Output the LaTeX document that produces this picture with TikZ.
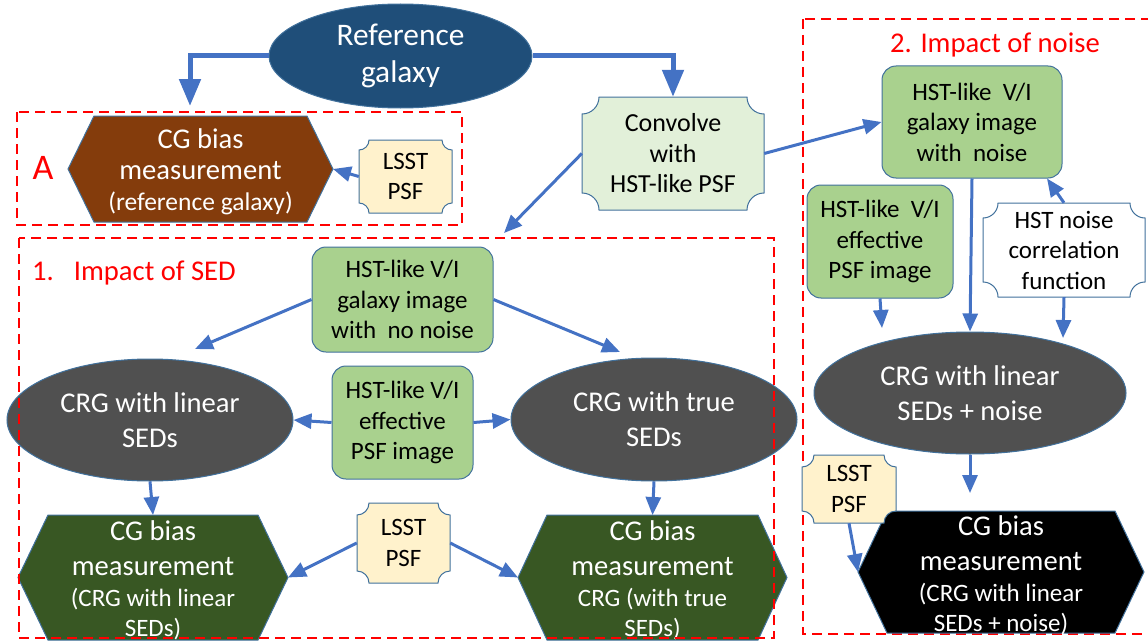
\documentclass[tikz,border=0pt]{standalone}
\usepackage{fontspec}
\setmainfont{Carlito}
\usetikzlibrary{shapes.geometric,arrows.meta}
\definecolor{arrowblue}{HTML}{4472C4}
\definecolor{bordblue}{HTML}{41719C}
\definecolor{navyfill}{HTML}{1F4E79}
\definecolor{brownfill}{HTML}{843C0C}
\definecolor{dkgreen}{HTML}{385723}
\definecolor{grayfill}{HTML}{505050}
\definecolor{greenfill}{HTML}{A9D18E}
\definecolor{lgreenfill}{HTML}{E2F0D9}
\definecolor{creamfill}{HTML}{FFF2CC}
\definecolor{redline}{HTML}{FF0000}

\newcommand\fbig{\fontsize{28.6}{35}\selectfont}
\newcommand\fhex{\fontsize{28.6}{31}\selectfont}
\newcommand\fmed{\fontsize{25}{30.5}\selectfont}
\newcommand\fsub{\fontsize{25}{30}\selectfont}

\tikzset{
  conn/.style={draw=arrowblue, line width=3pt, -{Triangle[length=18pt,width=15pt]}},
  bigconn/.style={draw=arrowblue, line width=5pt, -{Triangle[length=27pt,width=21pt]}},
  region/.style={draw=redline, line width=2.2pt, dash pattern=on 10pt off 6pt},
  outline/.style={draw=bordblue, line width=1pt},
  gbox/.style={outline, rectangle, rounded corners=14pt, fill=greenfill, align=center, font=\fmed, inner sep=0pt},
  ell/.style={outline, ellipse, fill=grayfill, text=white, align=center, font=\fbig, inner sep=0pt},
  ptext/.style={rectangle, align=center, font=\fmed, inner sep=0pt},
  htext/.style={rectangle, align=center, text=white, font=\fhex, inner sep=0pt},
  redlabel/.style={text=redline, font=\fbig, inner sep=0pt},
}

% plaque: name, cx, cy, w, h, radius, fill, text
\newcommand\plaque[8]{%
  \pgfmathsetmacro\pxa{#2-#4/2}\pgfmathsetmacro\pxb{#2+#4/2}%
  \pgfmathsetmacro\pya{#3-#5/2}\pgfmathsetmacro\pyb{#3+#5/2}%
  \pgfmathsetmacro\pr{#6}\pgfmathsetmacro\pk{0.5523*#6}%
  \draw[outline, fill=#7] (\pxa,{\pya+\pr})
    .. controls ({\pxa+\pk},{\pya+\pr}) and ({\pxa+\pr},{\pya+\pk}) .. ({\pxa+\pr},\pya)
    -- ({\pxb-\pr},\pya)
    .. controls ({\pxb-\pr},{\pya+\pk}) and ({\pxb-\pk},{\pya+\pr}) .. (\pxb,{\pya+\pr})
    -- (\pxb,{\pyb-\pr})
    .. controls ({\pxb-\pk},{\pyb-\pr}) and ({\pxb-\pr},{\pyb-\pk}) .. ({\pxb-\pr},\pyb)
    -- ({\pxa+\pr},\pyb)
    .. controls ({\pxa+\pr},{\pyb-\pk}) and ({\pxa+\pk},{\pyb-\pr}) .. (\pxa,{\pyb-\pr})
    -- cycle;
  \node[ptext, minimum width=#4pt, minimum height=#5pt] (#1) at (#2,#3) {#8};
}
% hexagon: name, cx, cy, w, h, inset, fill, text
\newcommand\hexnode[8]{%
  \pgfmathsetmacro\hxa{#2-#4/2}\pgfmathsetmacro\hxb{#2+#4/2}%
  \pgfmathsetmacro\hya{#3-#5/2}\pgfmathsetmacro\hyb{#3+#5/2}%
  \draw[outline, fill=#7] (\hxa,#3) -- ({\hxa+#6},\hya) -- ({\hxb-#6},\hya)
    -- (\hxb,#3) -- ({\hxb-#6},\hyb) -- ({\hxa+#6},\hyb) -- cycle;
  \coordinate (#1-l) at (\hxa,#3);
  \coordinate (#1-r) at (\hxb,#3);
  \coordinate (#1-t) at (#2,\hya);
  \node[htext] (#1) at (#2,{#3+3}) {#8};
}

\begin{document}
\begin{tikzpicture}[x=1pt,y=-1pt]
\useasboundingbox (0,0) rectangle (1148,642);

% region 2 (under its shapes)
\draw[region] (803,19) rectangle (1154,634);

% top
\node[outline, ellipse, fill=navyfill, text=white, align=center,
      font=\fontsize{31.4}{37}\selectfont, minimum width=263pt, minimum height=104pt, inner sep=0pt]
      (ref) at (400.5,56) {\rule{0pt}{4pt}Reference\\galaxy};

% box A
\hexnode{hexA}{200.5}{169}{265}{106}{26}{brownfill}{CG bias\\measurement\\{\fontsize{25.5}{30}\selectfont (reference galaxy)}}
\plaque{lsstA}{405.5}{176.5}{93}{73}{10}{creamfill}{LSST\\PSF}
\node[text=redline, font=\fontsize{36}{40}\selectfont, inner sep=0pt] (labA) at (43,168) {A};

% convolve
\plaque{conv}{673}{153.5}{182}{113}{17}{lgreenfill}{\fontsize{26}{31}\selectfont Convolve\\\fontsize{26}{31}\selectfont with\\\fontsize{26}{31}\selectfont HST-like PSF}

% region 2 content
\node[redlabel] (t2) at (995,45) {2. Impact of noise};
\node[gbox, minimum width=180pt, minimum height=112pt] (galN) at (972,122) {HST-like\ \ V/I\\galaxy image\\with\ \ noise};
\node[gbox, minimum width=146pt, minimum height=113pt] (effN) at (880,241.5) {HST-like\ \ V/I\\effective\\PSF image};
\plaque{corr}{1064}{250}{162}{94}{15}{white}{HST noise\\correlation\\function}
\node[ell, minimum width=312pt, minimum height=122pt] (crgN) at (970,393) {CRG with linear\\SEDs + noise};
\hexnode{hexN}{1001}{572}{286}{122}{29}{black}{CG bias\\[4pt]measurement\\{\fsub (CRG with linear}\\[-1pt]{\fsub SEDs + noise)}}
\plaque{lsstN}{849}{489}{94}{68}{12}{creamfill}{LSST\\PSF}

% region 1 content
\node[redlabel, anchor=west] (t1) at (32,273) {1.\hspace{20pt}Impact of SED};
\node[gbox, minimum width=181pt, minimum height=105pt] (galNo) at (402.5,299.5) {HST-like V/I\\galaxy image\\with\ \ no noise};
\node[ell, minimum width=286pt, minimum height=122pt] (crgL) at (150,420) {CRG with linear\\SEDs};
\node[ell, minimum width=286pt, minimum height=123pt] (crgT) at (654,419.5) {CRG with true\\SEDs};
\node[gbox, minimum width=141pt, minimum height=113pt] (effNo) at (402.5,422.5) {HST-like V/I\\effective\\PSF image};
\hexnode{hexL}{153}{577.5}{270}{125}{30}{dkgreen}{CG bias\\[4pt]measurement\\{\fsub (CRG with linear}\\[-1pt]{\fsub SEDs)}}
\hexnode{hexR}{652.5}{577.5}{269}{125}{29}{dkgreen}{CG bias\\[4pt]measurement\\{\fsub CRG (with true}\\[-1pt]{\fsub SEDs)}}
\plaque{lsst1}{403.5}{543}{93}{80}{12}{creamfill}{LSST\\PSF}

% regions A and 1 (over shapes)
\draw[region] (17,112) rectangle (462,225);
\draw[region] (19,238) rectangle (774,638);

% free arrow ends
\coordinate (aIn) at (190,106);
\coordinate (b1In) at (504,233);
\coordinate (crgLIn) at (195,349);
\coordinate (crgTIn) at (620,352);
\coordinate (effIn) at (882,328);
\coordinate (corrIn) at (1063,338);
\coordinate (nIn) at (970,493);

% connectors
\draw[bigconn] (ref.west) -| (aIn);
\draw[bigconn] (ref.east) -| (conv.north);
\draw[conn] (lsstA.west) -- (hexA-r);
\draw[conn] (conv.west) -- (b1In);
\draw[conn] (conv.east) -- (galN.west);
\draw[conn] (corr.north) -- ([xshift=75pt]galN.south);
\draw[conn] (effN.south) -- (effIn);
\draw[conn] (galN.south) -- (crgN.north);
\draw[conn] (corr.south) -- (corrIn);
\draw[conn] (crgN.south) -- (nIn);
\draw[conn] (lsstN.south) -- (hexN-l);
\draw[conn] (galNo.west) -- (crgLIn);
\draw[conn] (galNo.east) -- (crgTIn);
\draw[conn] (effNo.west) -- (crgL.east);
\draw[conn] (effNo.east) -- (crgT.west);
\draw[conn] (crgL.south) -- (hexL-t);
\draw[conn] (crgT.south) -- (hexR-t);
\draw[conn] (lsst1.west) -- (hexL-r);
\draw[conn] (lsst1.east) -- (hexR-l);
\end{tikzpicture}
\end{document}
